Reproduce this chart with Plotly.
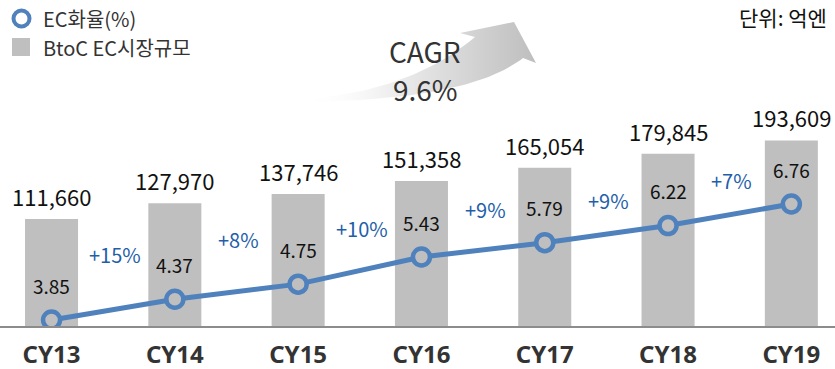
import numpy as np
import plotly.graph_objects as go

# ---- data -------------------------------------------------------------
years = ["CY13", "CY14", "CY15", "CY16", "CY17", "CY18", "CY19"]
market_size = [111660, 127970, 137746, 151358, 165054, 179845, 193609]   # 억엔
ec_rate = [3.85, 4.37, 4.75, 5.43, 5.79, 6.22, 6.76]                      # %
growth_labels = ["+15%", "+8%", "+10%", "+9%", "+9%", "+7%"]
cagr_lines = ["CAGR", "9.6%"]

# ---- layout constants (pixels of the 835 x 369 canvas) ---------------
W, H = 835, 369
PLOT_TOP, PLOT_BOTTOM = 40, 326
growth_label_y = [254, 239, 228, 209, 200, 180]
cagr_line_y = [51, 89]

FONT = "Noto Sans CJK KR"
BAR_COLOR = "#BFBFBF"
LINE_COLOR = "#4F81BD"
GROWTH_COLOR = "#1F5FAA"
TEXT_COLOR = "#111111"

plot_h = PLOT_BOTTOM - PLOT_TOP
bar_px_per_unit = 107.0 / 111660          # bar height scale
rate_px_per_unit = 39.86                  # line scale
rate_at_base = 3.85 - (PLOT_BOTTOM - 320) / rate_px_per_unit

fig = go.Figure()

fig.add_trace(go.Bar(
    x=years, y=market_size, width=0.43,
    marker=dict(color=BAR_COLOR, line=dict(width=0)),
    hoverinfo="skip", showlegend=False,
))

fig.add_trace(go.Scatter(
    x=years, y=ec_rate, yaxis="y2", mode="lines+markers",
    line=dict(color=LINE_COLOR, width=5),
    marker=dict(symbol="circle", size=17, color=BAR_COLOR,
                line=dict(color=LINE_COLOR, width=4.5)),
    hoverinfo="skip", showlegend=False,
))

# curved CAGR arrow drawn on a pixel-space overlay
def bezier(p0, p1, p2, n=40):
    t = np.linspace(0, 1, n)[:, None]
    p0, p1, p2 = map(np.array, (p0, p1, p2))
    return (1 - t) ** 2 * p0 + 2 * (1 - t) * t * p1 + t ** 2 * p2

upper = bezier((303, 99), (410, 92), (475, 37))
lower = bezier((523, 58), (470, 100), (303, 102))
head = np.array([(460, 33), (514, 22), (536, 63)])
outline = np.vstack([upper, head, lower, upper[:1]])

fig.add_trace(go.Scatter(
    x=outline[:, 0], y=outline[:, 1], xaxis="x3", yaxis="y3",
    mode="lines", line=dict(width=0), fill="toself",
    fillgradient=dict(type="horizontal",
                      colorscale=[[0, "rgba(255,255,255,0)"],
                                  [0.4, "rgba(236,236,236,1)"],
                                  [1, "rgba(190,190,190,1)"]]),
    hoverinfo="skip", showlegend=False,
))

annotations = []

# bar totals
for yr, v in zip(years, market_size):
    annotations.append(dict(
        x=yr, y=v, xref="x", yref="y", text=f"{v:,}", showarrow=False,
        yanchor="bottom", yshift=5,
        font=dict(family=FONT, size=22, color=TEXT_COLOR)))

# EC rate values inside bars
for yr, r in zip(years, ec_rate):
    annotations.append(dict(
        x=yr, y=r, xref="x", yref="y2", text=f"{r:.2f}", showarrow=False,
        yanchor="middle", yshift=35,
        font=dict(family=FONT, size=19, color=TEXT_COLOR)))

# year-over-year growth
for i, (g, py) in enumerate(zip(growth_labels, growth_label_y)):
    annotations.append(dict(
        x=i + 0.5, y=py, xref="x", yref="y3", text=g, showarrow=False,
        xshift=2, yanchor="middle",
        font=dict(family=FONT, size=20, color=GROWTH_COLOR)))

# CAGR text
for txt, ty in zip(cagr_lines, cagr_line_y):
    annotations.append(dict(
        x=425, y=ty, xref="x3", yref="y3", text=txt, showarrow=False,
        yanchor="middle", font=dict(family=FONT, size=28, color="#333333")))

# unit note
annotations.append(dict(
    x=829, y=17, xref="x3", yref="y3", text="단위: 억엔", showarrow=False,
    xanchor="right", yanchor="middle",
    font=dict(family=FONT, size=21, color=TEXT_COLOR)))

# legend entries
annotations.append(dict(
    x=41, y=18, xref="x3", yref="y3", text="EC화율(%)", showarrow=False,
    xanchor="left", yanchor="middle",
    font=dict(family=FONT, size=20, color="#333333")))
annotations.append(dict(
    x=41, y=47, xref="x3", yref="y3", text="BtoC EC시장규모", showarrow=False,
    xanchor="left", yanchor="middle",
    font=dict(family=FONT, size=20, color="#333333")))

shapes = [
    dict(type="circle", xref="x3", yref="y3", x0=13.5, x1=29.5, y0=10.5, y1=26.5,
         line=dict(color=LINE_COLOR, width=4), fillcolor="white"),
    dict(type="rect", xref="x3", yref="y3", x0=12, x1=30, y0=38, y1=56,
         line=dict(width=0), fillcolor=BAR_COLOR),
]

dom = [1 - PLOT_BOTTOM / H, 1 - PLOT_TOP / H]

fig.update_layout(
    width=W, height=H, template="none",
    margin=dict(l=0, r=0, t=0, b=0),
    paper_bgcolor="white", plot_bgcolor="rgba(0,0,0,0)",
    xaxis=dict(domain=[0, 1], range=[-0.418, 6.354], showgrid=False,
               showline=True, linecolor="#8C8C8C", linewidth=2,
               ticks="", ticklabelstandoff=6, automargin=False, zeroline=False,
               tickfont=dict(family="Noto Sans", size=24, color="#333333", weight="bold")),
    yaxis=dict(domain=dom, range=[0, plot_h / bar_px_per_unit], visible=False,
               showgrid=False, zeroline=False, automargin=False),
    yaxis2=dict(domain=dom, overlaying="y", range=[rate_at_base, rate_at_base + plot_h / rate_px_per_unit],
                visible=False, showgrid=False, zeroline=False, automargin=False),
    xaxis3=dict(domain=[0, 1], range=[0, W], visible=False, anchor="y3", automargin=False),
    yaxis3=dict(domain=[0, 1], range=[H, 0], visible=False, anchor="x3", automargin=False),
    annotations=annotations,
    shapes=shapes,
    showlegend=False,
)

fig.write_html("out.html")
